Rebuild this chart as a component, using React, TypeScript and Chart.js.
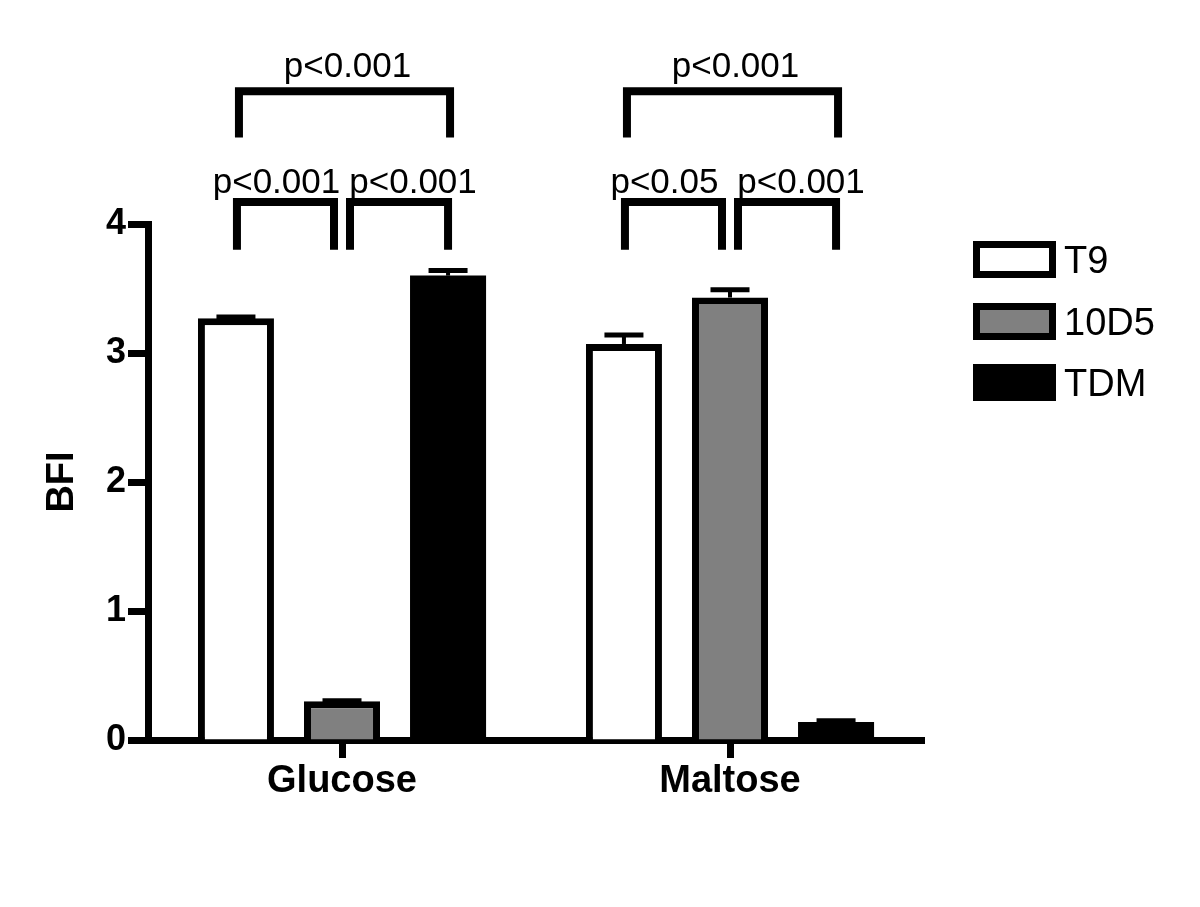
import React, { useEffect, useRef } from 'react';
import { Chart, registerables } from 'chart.js';

Chart.register(...registerables);

// ---------- data ----------
const categories = ['Glucose', 'Maltose'];
const seriesNames = ['T9', '10D5', 'TDM'];
const t9Values = [3.27, 3.07];
const d10d5Values = [0.3, 3.43];
const tdmValues = [3.6, 0.14];
const t9Errors = [0.01, 0.07];
const d10d5Errors = [0.005, 0.06];
const tdmErrors = [0.04, 0.01];
const yMin = 0;
const yMax = 4;
const yStep = 1;

// significance brackets: category index, from series, to series, tier, label
const bracketCats = [0, 0, 0, 1, 1, 1];
const bracketFrom = [0, 0, 1, 0, 0, 1];
const bracketTo = [2, 1, 2, 2, 1, 2];
const bracketTier = ['upper', 'lower', 'lower', 'upper', 'lower', 'lower'];
const bracketLabels = ['p<0.001', 'p<0.001', 'p<0.001', 'p<0.001', 'p<0.05', 'p<0.001'];

// ---------- styles ----------
const FONT = '"Liberation Sans", Arial, Helvetica, sans-serif';
const fills = ['#ffffff', '#808080', '#000000'];
const borderWidths = [7, 7, 0];
const W = 1200;
const H = 907;

const tierGeom: Record<string, { bar: number; leg: number; text: number }> = {
  upper: { bar: 5.03, leg: 4.67, text: 5.14 },
  lower: { bar: 4.17, leg: 3.8, text: 4.24 },
};

const errorPlugin = {
  id: 'errorBars',
  afterDatasetsDraw(chart: any) {
    const ctx = chart.ctx;
    const ys = chart.scales.y;
    const errs = [t9Errors, d10d5Errors, tdmErrors];
    const vals = [t9Values, d10d5Values, tdmValues];
    ctx.save();
    ctx.strokeStyle = '#000';
    ctx.lineCap = 'butt';
    chart.data.datasets.forEach((_: any, i: number) => {
      const meta = chart.getDatasetMeta(i);
      meta.data.forEach((el: any, j: number) => {
        const top = ys.getPixelForValue(vals[i][j] + errs[i][j]);
        ctx.lineWidth = 4;
        ctx.beginPath();
        ctx.moveTo(el.x, el.y);
        ctx.lineTo(el.x, top);
        ctx.stroke();
        ctx.lineWidth = 5;
        ctx.beginPath();
        ctx.moveTo(el.x - 19.5, top);
        ctx.lineTo(el.x + 19.5, top);
        ctx.stroke();
      });
    });
    ctx.restore();
  },
};

const bracketPlugin = {
  id: 'brackets',
  afterDraw(chart: any) {
    const ctx = chart.ctx;
    const ys = chart.scales.y;
    ctx.save();
    ctx.strokeStyle = '#000';
    ctx.fillStyle = '#000';
    ctx.lineWidth = 8;
    ctx.lineJoin = 'miter';
    ctx.lineCap = 'butt';
    ctx.font = `35px ${FONT}`;
    ctx.textAlign = 'center';
    ctx.textBaseline = 'alphabetic';
    for (let k = 0; k < bracketCats.length; k++) {
      const c = bracketCats[k];
      const a = bracketFrom[k];
      const b = bracketTo[k];
      const tier = bracketTier[k];
      const g = tierGeom[tier];
      const xa = chart.getDatasetMeta(a).data[c].x;
      const xb = chart.getDatasetMeta(b).data[c].x;
      let x1: number, x2: number, dx: number;
      if (tier === 'upper') {
        x1 = xa + 3;
        x2 = xb + 2;
        dx = 3;
      } else if (b === 1) {
        x1 = xa + 1;
        x2 = xb - 8;
        dx = -9;
      } else {
        x1 = xa + 8;
        x2 = xb;
        dx = 14;
      }
      const yBar = ys.getPixelForValue(g.bar);
      const yLeg = ys.getPixelForValue(g.leg);
      ctx.beginPath();
      ctx.moveTo(x1, yLeg);
      ctx.lineTo(x1, yBar);
      ctx.lineTo(x2, yBar);
      ctx.lineTo(x2, yLeg);
      ctx.stroke();
      ctx.fillText(bracketLabels[k], (x1 + x2) / 2 + dx, ys.getPixelForValue(g.text));
    }
    ctx.restore();
  },
};

const legendPlugin = {
  id: 'customLegend',
  afterDraw(chart: any) {
    const ctx = chart.ctx;
    ctx.save();
    const bx = 973;
    const bw = 83;
    const bh = 37;
    const tops = [241, 303, 364];
    ctx.font = `38px ${FONT}`;
    ctx.textAlign = 'left';
    ctx.textBaseline = 'alphabetic';
    seriesNames.forEach((name, i) => {
      const y = tops[i];
      ctx.fillStyle = '#000';
      ctx.fillRect(bx, y, bw, bh);
      ctx.fillStyle = fills[i];
      ctx.fillRect(bx + 7, y + 7, bw - 14, bh - 14);
      ctx.fillStyle = '#000';
      ctx.fillText(name, 1064, y + bh / 2 + 13.5);
    });
    ctx.restore();
  },
};

export default function App() {
  const ref = useRef<HTMLCanvasElement | null>(null);
  useEffect(() => {
    if (!ref.current) return;
    const valueSets = [t9Values, d10d5Values, tdmValues];
    const chart = new Chart(ref.current, {
      type: 'bar',
      data: {
        labels: categories,
        datasets: seriesNames.map((name, i) => ({
          label: name,
          data: valueSets[i],
          backgroundColor: fills[i],
          borderColor: '#000',
          borderWidth: borderWidths[i],
          borderSkipped: 'start',
          inflateAmount: 0,
          categoryPercentage: 0.82,
          barPercentage: 0.717,
        })),
      },
      options: {
        responsive: false,
        animation: false,
        devicePixelRatio: 1,
        layout: { padding: { top: 224, right: W - 924, left: 0, bottom: 0 } },
        plugins: { legend: { display: false }, tooltip: { enabled: false }, title: { display: false } },
        scales: {
          x: {
            type: 'category',
            offset: true,
            z: 1,
            grid: {
              display: true,
              drawOnChartArea: false,
              drawTicks: true,
              tickLength: 18,
              tickWidth: 7,
              tickColor: '#000',
              offset: false,
            },
            border: { display: true, color: '#000', width: 7 },
            ticks: {
              color: '#000',
              font: { family: FONT, size: 38, weight: 'bold' },
              padding: 1,
              maxRotation: 0,
            },
            afterFit: (s: any) => {
              s.height = H - 740;
            },
          },
          y: {
            min: yMin,
            max: yMax,
            ticks: {
              stepSize: yStep,
              color: '#000',
              font: { family: FONT, size: 36, weight: 'bold' },
              padding: 2,
            },
            grid: {
              display: true,
              drawOnChartArea: false,
              drawTicks: true,
              tickLength: 20,
              tickWidth: 7,
              tickColor: '#000',
            },
            border: { display: true, color: '#000', width: 7 },
            title: {
              display: true,
              text: 'BFI',
              color: '#000',
              font: { family: FONT, size: 38, weight: 'bold' },
              padding: { top: 40, bottom: 0 },
            },
            afterFit: (s: any) => {
              s.width = 148;
            },
          },
        },
      } as any,
      plugins: [errorPlugin, bracketPlugin, legendPlugin],
    });
    return () => chart.destroy();
  }, []);

  return (
    <div style={{ position: 'absolute', left: 0, top: 0, width: W, height: H, background: '#fff' }}>
      <canvas ref={ref} width={W} height={H} style={{ display: 'block', width: W, height: H }} />
    </div>
  );
}
